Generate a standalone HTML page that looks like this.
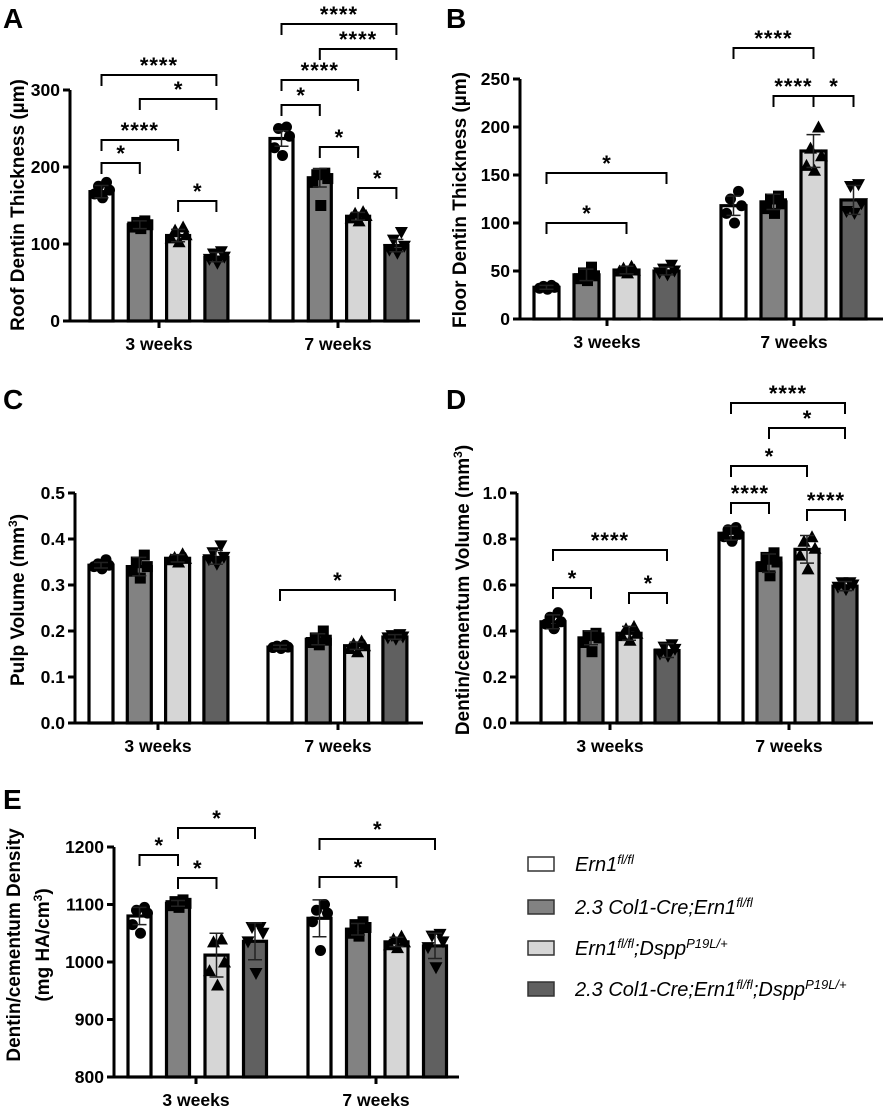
<!DOCTYPE html>
<html><head><meta charset="utf-8"><style>
html,body{margin:0;padding:0;background:#fff;}
svg{display:block;font-family:"Liberation Sans",Arial,sans-serif;}
</style></head><body>
<svg id="fig" width="886" height="1109" viewBox="0 0 886 1109"></svg>
<script>
const groups = ["3 weeks","7 weeks"];
const legendLabels = ["Ern1","2.3 Col1-Cre;Ern1","Ern1;Dspp","2.3 Col1-Cre;Ern1;Dspp"];
// Panel A
const aTicks = [0,100,200,300];
const aMeans = [168,125,111,83,237,186,136,98];
const aErr = [8,5,8,6,10,12,5,8];
const aPoints = [[160,165,170,175,180],[120,122,125,128,130],[103,108,112,118,122],[75,80,83,87,90],[215,225,240,250,252],[150,180,185,190,192],[130,134,137,140,142],[88,92,97,105,115]];
// Panel B
const bTicks = [0,50,100,150,200,250];
const bMeans = [33,46,51,50,118,122,175,124];
const bErr = [2,6,4,4,10,8,17,15];
const bPoints = [[31,32,33,34,35],[40,42,45,48,54],[48,50,51,53,55],[46,48,50,52,56],[100,110,118,125,133],[110,115,120,125,128],[155,160,170,178,200],[110,112,120,138,140]];
// Panel C
const cTicks = [0,0.1,0.2,0.3,0.4,0.5];
const cMeans = [0.343,0.34,0.358,0.36,0.165,0.182,0.168,0.187];
const cErr = [0.006,0.02,0.008,0.015,0.004,0.012,0.008,0.005];
const cPoints = [[0.335,0.34,0.343,0.346,0.355],[0.315,0.33,0.34,0.35,0.365],[0.35,0.355,0.358,0.36,0.368],[0.345,0.355,0.36,0.37,0.385],[0.162,0.164,0.165,0.167,0.169],[0.17,0.175,0.18,0.185,0.2],[0.155,0.162,0.168,0.172,0.178],[0.182,0.185,0.187,0.19,0.192]];
// Panel D
const dTicks = [0,0.2,0.4,0.6,0.8,1.0];
const dMeans = [0.44,0.37,0.39,0.315,0.825,0.695,0.755,0.595];
const dErr = [0.03,0.03,0.03,0.03,0.03,0.04,0.06,0.02];
const dPoints = [[0.41,0.43,0.44,0.46,0.48],[0.31,0.35,0.37,0.38,0.39],[0.36,0.38,0.39,0.41,0.42],[0.29,0.3,0.32,0.33,0.34],[0.79,0.81,0.82,0.84,0.85],[0.64,0.68,0.7,0.72,0.74],[0.67,0.73,0.76,0.79,0.81],[0.58,0.59,0.6,0.61,0.61]];
// Panel E
const eTicks = [800,900,1000,1100,1200];
const eMeans = [1080,1102,1012,1036,1076,1057,1035,1028];
const eErr = [15,5,38,32,32,10,8,22];
const ePoints = [[1050,1065,1085,1090,1095],[1095,1098,1102,1105,1108],[960,985,1000,1035,1040],[980,1035,1050,1060,1060],[1020,1070,1085,1090,1100],[1045,1050,1060,1065,1070],[1025,1030,1035,1040,1045],[990,1025,1035,1045,1048]];

const NS="http://www.w3.org/2000/svg";
const svg=document.getElementById('fig');
const fills=["#ffffff","#828282","#d6d6d6","#606060"];
function mk(tag,attrs,parent){const e=document.createElementNS(NS,tag);for(const k in attrs)e.setAttribute(k,attrs[k]);(parent||svg).appendChild(e);return e;}

function panel(id,cfg,ticks,means,err,points,brackets,fmt){
  const g=mk('g',{});
  
  
  const yMin=ticks[0],yMax=ticks[ticks.length-1];
  const y=v=>cfg.y0-(v-yMin)/(yMax-yMin)*(cfg.y0-cfg.yTop);
  const bx=i=>(i<4?cfg.g1:cfg.g2)+(i%4)*cfg.s;
  const cx=i=>bx(i)+cfg.w/2;
  means.forEach((m,i)=>{
    const r=mk('rect',{x:bx(i),y:y(m),width:cfg.w,height:cfg.y0-y(m),fill:fills[i%4],stroke:'#000','stroke-width':3.2},g);
    
    
  });
  const jit=[1,-7,8,-3,5];
  points.forEach((arr,i)=>{
    arr.forEach((v,k)=>{
      const px=cx(i)+jit[k],py=y(v);const t=i%4;let p;
      if(t===0)p=mk('circle',{cx:px,cy:py,r:5.5,fill:'#000'},g);
      else if(t===1)p=mk('rect',{x:px-5.5,y:py-5.5,width:11,height:11,fill:'#000'},g);
      else if(t===2)p=mk('polygon',{points:`${px},${py-6.5} ${px+6.5},${py+5.5} ${px-6.5},${py+5.5}`,fill:'#000'},g);
      else p=mk('polygon',{points:`${px},${py+6.5} ${px+6.5},${py-5.5} ${px-6.5},${py-5.5}`,fill:'#000'},g);
      
      
    });
  });
  means.forEach((m,i)=>{
    const c=cx(i),a=y(m-err[i]),b=y(m+err[i]);
    const e=mk('path',{d:`M${c},${a}V${b}M${c-7},${a}H${c+7}M${c-7},${b}H${c+7}`,stroke:'#222','stroke-width':1.5,fill:'none'},g);
    
    
  });
  const ax=mk('path',{d:`M${cfg.ax},${cfg.yTop}V${cfg.y0}H${cfg.xEnd}`,stroke:'#000','stroke-width':3,fill:'none'},g);
  
  
  ticks.forEach(t=>{
    mk('line',{x1:cfg.ax-7,x2:cfg.ax,y1:y(t),y2:y(t),stroke:'#000','stroke-width':3},g);
    const tx=mk('text',{x:cfg.ax-10,y:y(t)+6,'text-anchor':'end','font-size':17.5,'font-weight':'bold'},g);
    tx.textContent=fmt(t);
    
    
  });
  cfg.gt.forEach((gx,k)=>{
    mk('line',{x1:gx,x2:gx,y1:cfg.y0,y2:cfg.y0+7,stroke:'#000','stroke-width':3},g);
    const tx=mk('text',{x:gx,y:cfg.y0+29,'text-anchor':'middle','font-size':17.5,'font-weight':'bold'},g);
    tx.textContent=groups[k];
    
    
  });
  brackets.forEach(([i,j,by,lab])=>{
    const x1=cx(i),x2=cx(j);
    const p=mk('path',{d:`M${x1},${by+11}V${by}H${x2}V${by+11}`,stroke:'#000','stroke-width':2,fill:'none'},g);
    
    
    const t=mk('text',{x:(x1+x2)/2,y:by-2,'text-anchor':'middle','font-size':22,'font-weight':'bold','letter-spacing':lab.length>1?'1':'0'},g);
    t.textContent=lab;
    
    
  });
  cfg.title.forEach((line,k)=>{
    const tx=cfg.tx+k*29;
    const t=mk('text',{x:tx,y:cfg.ty,'text-anchor':'middle','font-size':19,'font-weight':'bold',transform:`rotate(-90 ${tx} ${cfg.ty})`},g);
    t.innerHTML=line;
    
    
  });
  const L=mk('text',{x:cfg.lx,y:cfg.ly,'font-size':28,'font-weight':'bold'},g);
  L.textContent=cfg.letter;
  
  
}
const int=t=>String(t), d1=t=>t.toFixed(1);
const sup3='<tspan baseline-shift="super" font-size="12">3</tspan>';
panel('panel-a',{ax:70,xEnd:420,y0:321,yTop:90,g1:90,g2:270,s:38.3,w:23,gt:[159,338],tx:24,ty:205,title:['Roof Dentin Thickness (µm)'],letter:'A',lx:3,ly:28},
  aTicks,aMeans,aErr,aPoints,[[0,1,163,'*'],[0,2,140,'****'],[2,3,201,'*'],[1,3,99,'*'],[0,3,75,'****'],[4,5,105,'*'],[5,6,147,'*'],[6,7,188,'*'],[4,6,80,'****'],[5,7,49,'****'],[4,7,24,'****']],int);
panel('panel-b',{ax:520,xEnd:883,y0:319,yTop:79,g1:534,g2:721,s:40,w:25,gt:[607,794],tx:466,ty:200,title:['Floor Dentin Thickness (µm)'],letter:'B',lx:446,ly:28},
  bTicks,bMeans,bErr,bPoints,[[0,2,223,'*'],[0,3,173,'*'],[4,6,48,'****'],[5,6,96,'****'],[6,7,96,'*']],int);
panel('panel-c',{ax:75,xEnd:423,y0:723,yTop:493,g1:89,g2:268,s:38.3,w:24,gt:[158,338],tx:24,ty:600,title:['Pulp Volume (mm'+sup3+')'],letter:'C',lx:3,ly:409},
  cTicks,cMeans,cErr,cPoints,[[4,7,590,'*']],d1);
panel('panel-d',{ax:517,xEnd:873,y0:723,yTop:493,g1:541,g2:719,s:38,w:24,gt:[610,789],tx:469,ty:590,title:['Dentin/cementum Volume (mm'+sup3+')'],letter:'D',lx:446,ly:409},
  dTicks,dMeans,dErr,dPoints,[[0,1,588,'*'],[2,3,593,'*'],[0,3,550,'****'],[4,5,503,'****'],[6,7,510,'****'],[4,6,466,'*'],[5,7,428,'*'],[4,7,403,'****']],d1);
panel('panel-e',{ax:114,xEnd:459,y0:1077,yTop:847,g1:128,g2:308,s:38.5,w:23,gt:[196,376],tx:20,ty:945,title:['Dentin/cementum Density','(mg HA/cm'+sup3+')'],letter:'E',lx:3,ly:809},
  eTicks,eMeans,eErr,ePoints,[[0,1,855,'*'],[1,2,878,'*'],[1,3,828,'*'],[4,6,877,'*'],[4,7,839,'*']],int);

const ly=[864,907,948,989];
legendLabels.forEach((lab,i)=>{
  const r=mk('rect',{x:528,y:ly[i]-7,width:26,height:14,fill:fills[i],stroke:'#333','stroke-width':1.5});
  
  
  const t=mk('text',{x:575,y:ly[i]+7,'font-size':20,'font-style':'italic'});
  let h;
  const s=v=>'<tspan baseline-shift="super" font-size="13">'+v+'</tspan>';
  if(i===0)h='Ern1'+s('fl/fl');
  else if(i===1)h='2.3 Col1-Cre;Ern1'+s('fl/fl');
  else if(i===2)h='Ern1'+s('fl/fl')+'<tspan>;Dspp</tspan>'+s('P19L/+');
  else h='2.3 Col1-Cre;Ern1'+s('fl/fl')+'<tspan>;Dspp</tspan>'+s('P19L/+');
  t.innerHTML=h;
  
  
});
</script>
</body></html>
